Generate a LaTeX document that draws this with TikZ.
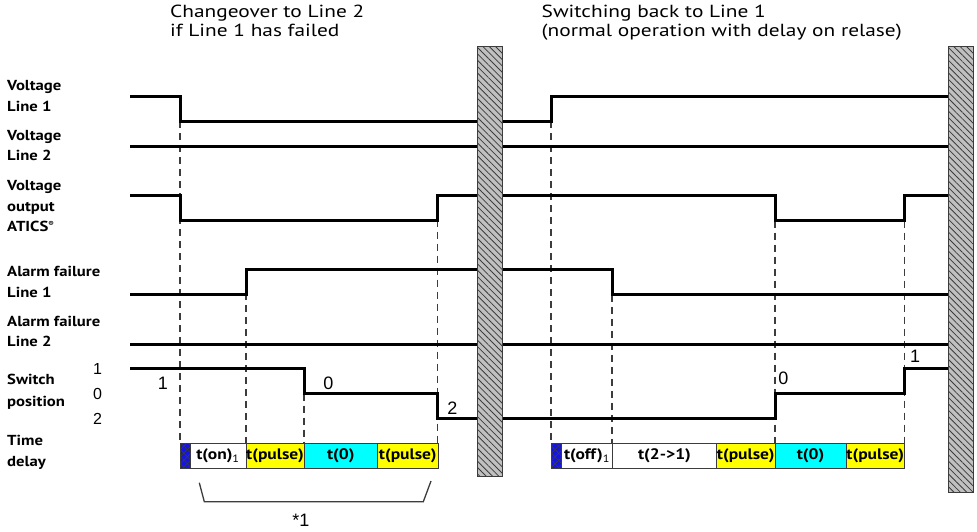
\documentclass[tikz,border=0pt]{standalone}
\usepackage{fontspec}
\setmainfont{PT Sans}[FakeStretch=1.15]
\newfontfamily\ttlfont{PT Sans}[FakeStretch=1.22]
\newfontfamily\arialf{Liberation Sans}
\usetikzlibrary{patterns.meta}
\definecolor{yel}{RGB}{255,255,0}
\definecolor{cyn}{RGB}{0,255,255}
\definecolor{blu}{RGB}{20,20,230}
\definecolor{barfill}{RGB}{192,192,192}
\definecolor{dgray}{RGB}{60,60,60}
\begin{document}
\begin{tikzpicture}[x=1pt,y=-1pt,
  sig/.style={line width=3pt, line join=miter},
  guide/.style={draw=dgray, line width=1.1pt, dash pattern=on 7pt off 5pt},
  hbar/.style={fill=barfill, draw=dgray, line width=1pt,
    postaction={pattern={Lines[angle=-45,distance=4.5pt,line width=0.8pt]}, pattern color=dgray}},
  tbox/.style={draw=dgray, line width=0.8pt},
  bluebox/.style={fill=blu, draw=dgray, line width=0.8pt,
    postaction={pattern={Lines[angle=45,distance=5pt,line width=0.6pt]}, pattern color=dgray},
    postaction={pattern={Lines[angle=-45,distance=5pt,line width=0.6pt]}, pattern color=dgray}},
  btxt/.style={font=\bfseries\fontsize{15.2}{15.2}\selectfont, inner sep=0pt},
  lbl/.style={anchor=base west, font=\bfseries\fontsize{14.5}{14.5}\selectfont, inner sep=0pt},
  ttl/.style={anchor=base west, font=\ttlfont\fontsize{17.5}{17.5}\selectfont, inner sep=0pt},
  lvl/.style={font=\arialf\fontsize{16}{16}\selectfont, inner sep=0pt},
  swlbl/.style={font=\arialf\fontsize{18}{18}\selectfont, inner sep=0pt}]
\useasboundingbox (0,0) rectangle (977,531);

% titles
\node[ttl] (t1a) at (170,17) {Changeover to Line 2};
\node[ttl] (t1b) at (170,36) {if Line 1 has failed};
\node[ttl] (t2a) at (541.5,17) {Switching back to Line 1};
\node[ttl] (t2b) at (541.5,36) {(normal operation with delay on relase)};

% left labels
\node[lbl] (l1a) at (7,90.7) {Voltage};
\node[lbl] (l1b) at (7,111.7) {Line 1};
\node[lbl] (l2a) at (7,140) {Voltage};
\node[lbl] (l2b) at (7,160.7) {Line 2};
\node[lbl] (l3a) at (7,190) {Voltage};
\node[lbl] (l3b) at (7,211) {output};
\node[lbl] (l3c) at (7,231.7) {ATICS\textsuperscript{\fontsize{7}{7}\selectfont ®}};
\node[lbl] (l4a) at (7,276.7) {Alarm failure};
\node[lbl] (l4b) at (7,297.3) {Line 1};
\node[lbl] (l5a) at (7,326) {Alarm failure};
\node[lbl] (l5b) at (7,346.7) {Line 2};
\node[lbl] (l6a) at (7,384.3) {Switch};
\node[lbl] (l6b) at (7,406) {position};
\node[lbl] (l7a) at (7,445) {Time};
\node[lbl] (l7b) at (7,466) {delay};

\node[lvl] (v1) at (97.5,369) {1};
\node[lvl] (v0) at (97.5,393.5) {0};
\node[lvl] (v2) at (97.5,419) {2};

% dashed guides
\foreach \x/\y in {180/121, 246/269, 304/393.5, 437.5/195.5, 551/121, 612/294.5, 775/220.5, 904.5/220.5}
  \draw[guide] (\x,\y) -- (\x,443.5);

% signals, left part
\draw[sig] (130,96) -- (180,96) -- (180,121) -- (477,121);
\draw[sig] (130,146) -- (477,146);
\draw[sig] (130,195.5) -- (180,195.5) -- (180,220.5) -- (437.5,220.5) -- (437.5,195.5) -- (477,195.5);
\draw[sig] (130,294.5) -- (246,294.5) -- (246,269) -- (477,269);
\draw[sig] (130,344) -- (477,344);
\draw[sig] (130,368.5) -- (304,368.5) -- (304,393.5) -- (437.5,393.5) -- (437.5,418.5) -- (477,418.5);
% signals, right part
\draw[sig] (502,121) -- (551,121) -- (551,96) -- (948,96);
\draw[sig] (502,146) -- (948,146);
\draw[sig] (502,195.5) -- (775,195.5) -- (775,220.5) -- (904.5,220.5) -- (904.5,195.5) -- (948,195.5);
\draw[sig] (502,269) -- (612,269) -- (612,294.5) -- (948,294.5);
\draw[sig] (502,344) -- (948,344);
\draw[sig] (502,418.5) -- (775,418.5) -- (775,393.5) -- (904.5,393.5) -- (904.5,368.5) -- (948,368.5);

% switch position labels
\node[swlbl] (s1) at (163,383) {1};
\node[swlbl] (s0) at (328.3,383.3) {0};
\node[swlbl] (s2) at (452.3,408.3) {2};
\node[swlbl] (s0r) at (783.3,378.3) {0};
\node[swlbl] (s1r) at (915,356.7) {1};

% time boxes, left
\path[bluebox] (180,443.5) rectangle (190,468);
\path[tbox, fill=white] (190,443.5) rectangle (246,468);
\path[tbox, fill=yel] (246,443.5) rectangle (304,468);
\path[tbox, fill=cyn] (304,443.5) rectangle (377.5,468);
\path[tbox, fill=yel] (377.5,443.5) rectangle (438,468);
\node[btxt] (ton) at (218,455.75) {t(on)\textsubscript{\mdseries 1}};
\node[btxt] (p1) at (275,455.75) {t(pulse)};
\node[btxt] (z1) at (340.75,455.75) {t(0)};
\node[btxt] (p2) at (407.75,455.75) {t(pulse)};
% time boxes, right
\path[bluebox] (551.5,443.5) rectangle (561.5,468);
\path[tbox, fill=white] (561.5,443.5) rectangle (612.5,468);
\path[tbox, fill=white] (612.5,443.5) rectangle (716.5,468);
\path[tbox, fill=yel] (716.5,443.5) rectangle (775,468);
\path[tbox, fill=cyn] (775,443.5) rectangle (846,468);
\path[tbox, fill=yel] (846,443.5) rectangle (904.5,468);
\node[btxt] (toff) at (587,455.75) {t(off)\textsubscript{\mdseries 1}};
\node[btxt] (t21) at (664.5,455.75) {t(2->1)};
\node[btxt] (p3) at (745.75,455.75) {t(pulse)};
\node[btxt] (z2) at (810.5,455.75) {t(0)};
\node[btxt] (p4) at (875.25,455.75) {t(pulse)};

% bracket
\coordinate (b1) at (199.3,482.7);
\coordinate (b2) at (204.3,501.7);
\coordinate (b3) at (423.3,501.7);
\coordinate (b4) at (431,481);
\draw[line width=1.3pt, draw=dgray] (b1) -- (b2) -- (b3) -- (b4);
\node[swlbl] (star) at (301,520) {*1};

% hatched break bars
\path[hbar] (477,46) rectangle (502,476);
\path[hbar] (948,46) rectangle (973,492.5);
\end{tikzpicture}
\end{document}
